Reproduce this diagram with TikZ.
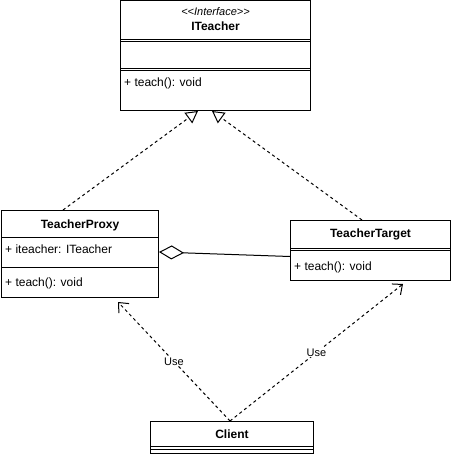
\documentclass[tikz,border=0pt]{standalone}
\usepackage{fontspec}
\setmainfont{Liberation Sans}
\usetikzlibrary{arrows.meta,positioning}

\begin{document}
\begin{tikzpicture}[
    x=1pt, y=-1pt,
    umlbox/.style={draw, line width=1pt, anchor=north west, inner sep=0pt},
    title/.style={inner sep=0pt, font=\bfseries\fontsize{12}{14}\selectfont},
    member/.style={anchor=west, inner sep=0pt, font=\fontsize{12}{14}\selectfont},
    sepline/.style={line width=1pt},
    realize/.style={dash pattern=on 3pt off 3pt, line width=1pt, -{Triangle[open, length=12pt, width=13pt]}},
    uses/.style={dash pattern=on 3pt off 3pt, line width=1pt, -{Straight Barb[length=8pt, width=14pt]}},
    aggr/.style={line width=1pt, {Diamond[open, length=25pt, width=14pt]}-},
    uselabel/.style={fill=white, inner sep=1pt, font=\fontsize{11}{13}\selectfont}
]
    \useasboundingbox (0,0) rectangle (451,455);

    % Interface
    \node[umlbox, minimum width=190pt, minimum height=110pt] (iteacher) at (120,0) {};
    \node[inner sep=0pt, font=\itshape\fontsize{11}{13}\selectfont] (stereo) at ([yshift=-12pt]iteacher.north) {{<}{<}Interface{>}{>}};
    \node[title] (iname) at ([yshift=-26pt]iteacher.north) {ITeacher};
    \draw[sepline] ([yshift=-39.5pt]iteacher.north west) -- ([yshift=-39.5pt]iteacher.north east);
    \draw[sepline] ([yshift=-41.5pt]iteacher.north west) -- ([yshift=-41.5pt]iteacher.north east);
    \draw[sepline] ([yshift=-68pt]iteacher.north west) -- ([yshift=-68pt]iteacher.north east);
    \draw[sepline] ([yshift=-70pt]iteacher.north west) -- ([yshift=-70pt]iteacher.north east);
    \node[member] (iteach) at ([xshift=4pt, yshift=-83pt]iteacher.north west) {+ teach(): void};

    % Proxy
    \node[umlbox, minimum width=157pt, minimum height=87pt] (proxy) at (1,210) {};
    \node[title] (pname) at ([yshift=-15pt]proxy.north) {TeacherProxy};
    \draw[sepline] ([yshift=-27pt]proxy.north west) -- ([yshift=-27pt]proxy.north east);
    \node[member] (pfield) at ([xshift=4pt, yshift=-39pt]proxy.north west) {+ iteacher: ITeacher};
    \draw[sepline] ([yshift=-57pt]proxy.north west) -- ([yshift=-57pt]proxy.north east);
    \node[member] (pteach) at ([xshift=4pt, yshift=-73pt]proxy.north west) {+ teach(): void};

    % Target
    \node[umlbox, minimum width=160pt, minimum height=60pt] (target) at (290,220) {};
    \node[title] (tname) at ([yshift=-14pt]target.north) {TeacherTarget};
    \draw[sepline] ([yshift=-28pt]target.north west) -- ([yshift=-28pt]target.north east);
    \draw[sepline] ([yshift=-30pt]target.north west) -- ([yshift=-30pt]target.north east);
    \node[member] (tteach) at ([xshift=4pt, yshift=-47pt]target.north west) {+ teach(): void};

    % Client
    \node[umlbox, minimum width=163pt, minimum height=32pt] (client) at (150,421) {};
    \node[title] (cname) at ([yshift=-13pt]client.north) {Client};
    \draw[sepline] ([yshift=-25pt]client.north west) -- ([yshift=-25pt]client.north east);
    \draw[sepline] ([yshift=-28pt]client.north west) -- ([yshift=-28pt]client.north east);

    % Arrows
    \draw[realize] ([xshift=62pt]proxy.north west) -- ([xshift=78pt]iteacher.south west);
    \draw[realize] ([xshift=72pt]target.north west) -- ([xshift=92pt]iteacher.south west);
    \draw[aggr] ([yshift=2pt]proxy.east) -- ([yshift=-6pt]target.west);
    \draw[uses] ([xshift=80pt]client.north west) -- node[uselabel] (use1) {Use} ([xshift=117pt, yshift=-4pt]proxy.south west);
    \draw[uses] ([xshift=80pt]client.north west) -- node[uselabel] (use2) {Use} ([xshift=113pt, yshift=-3pt]target.south west);

\end{tikzpicture}
\end{document}
